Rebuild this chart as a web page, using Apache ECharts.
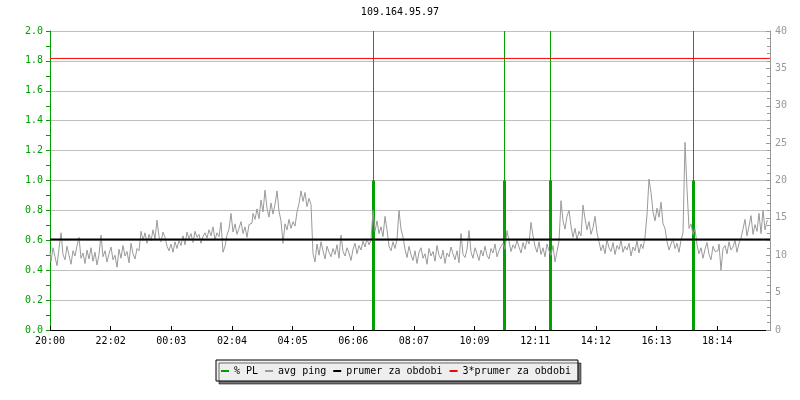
<!DOCTYPE html>
<html>
<head>
<meta charset="utf-8">
<script src="https://cdn.jsdelivr.net/npm/echarts@6/dist/echarts.min.js"></script>
<style>html,body{margin:0;padding:0;background:#fff}#c{width:800px;height:400px}</style>
</head>
<body>
<div id="c"></div>
<script>
const chartTitle = '109.164.95.97';
const tickLabels = ['20:00','22:02','00:03','02:04','04:05','06:06','08:07','10:09','12:11','14:12','16:13','18:14'];
const tickStepMin = 121.3;   // minutes between x tick labels
const spanMin = 1440;        // minutes shown
const pingStepMin = 4;       // minutes between ping samples
// avg ping, ms (right axis)
const avgPing = [
 10.5, 9.2, 11.0, 9.8, 8.6, 10.9, 13.0, 10.1, 9.4, 11.2, 10.0, 8.8, 10.6, 9.9, 11.3,
 12.4, 9.6, 10.3, 8.9, 10.7, 9.5, 11.0, 9.2, 10.4, 8.7, 10.1, 12.7, 9.8, 10.6, 9.1, 10.2, 11.1, 9.4, 10.0, 8.4, 10.8, 9.6, 11.3, 9.9, 10.5, 9.0, 11.6, 10.2, 9.5, 10.9,
 10.6, 13.2, 12.0, 13.0, 11.6, 12.8, 11.9, 13.4, 12.2, 14.7, 12.5, 11.8, 13.1, 12.4, 11.2, 10.6, 11.5, 10.4, 11.8, 10.9, 12.0, 11.3,
 12.6, 11.4, 13.1, 12.2, 12.9, 11.7, 13.2, 12.4, 12.8, 11.6, 12.5, 13.0,
 12.3, 13.4, 12.6, 13.8, 12.1, 13.0, 12.5, 14.4, 10.4, 11.2, 12.7, 13.5,
 15.6, 13.1, 14.2, 12.8, 13.6, 14.5, 12.9, 13.8, 12.4, 14.1,
 14.3, 15.6, 14.8, 16.2, 14.9, 17.4, 15.8, 18.7, 16.3, 15.1, 17.0, 15.5, 16.8, 18.6, 15.9, 14.6,
 11.6, 14.2, 13.4, 14.8, 13.6, 14.5, 13.9,
 15.8, 16.9, 18.6, 17.2, 18.4, 16.5, 17.6, 16.8,
 10.2, 9.1, 11.5, 10.0, 11.8, 10.6, 9.5, 11.2, 10.4, 9.8, 10.9, 10.1, 11.4, 9.6, 12.7, 10.5, 9.9, 11.0, 10.3, 9.3, 10.8, 11.6, 10.2, 11.3, 10.7, 11.9, 11.1, 12.2, 11.4, 12.0,
 16.0, 13.2, 14.6, 12.9, 13.8, 12.5, 15.2, 13.4,
 11.2, 10.6, 11.8, 10.9, 12.1,
 16.0, 13.5, 12.4,
 10.8, 9.7, 11.2, 10.1, 9.3, 10.6, 8.9, 10.4, 11.0, 9.6, 10.2, 8.8, 10.9, 9.9, 10.5, 9.2, 11.3, 10.0, 9.5, 10.7, 8.9, 10.3, 9.8, 11.1, 10.2, 9.4, 10.6, 9.0, 12.9, 10.1, 9.7, 10.8, 13.3, 10.4, 9.6, 11.0, 10.2, 9.3, 10.7, 9.9, 11.2, 10.0, 9.5, 10.9, 10.3, 11.5, 9.8, 10.6, 11.2,
 11.6, 10.8, 13.3, 11.9, 10.5, 11.4, 10.9, 12.0, 11.1, 10.3, 11.7, 10.8, 12.2, 11.5, 14.4, 12.6,
 11.2, 10.4, 11.8, 10.1, 11.0, 9.8, 11.5, 10.6, 10.0, 11.3, 9.1, 10.5, 11.9,
 17.3, 14.6, 13.5, 15.2, 16.0, 13.9,
 12.4, 13.6, 12.1, 13.2, 12.6,
 16.7, 14.9, 13.4, 14.5, 12.8, 13.7, 15.2, 13.0,
 11.8, 10.6, 11.4, 10.2, 12.1, 11.0, 10.5, 11.7, 10.1, 11.3, 10.8, 12.0, 10.4, 11.2, 10.7, 11.6, 9.9, 11.1, 10.6, 11.9, 10.3, 11.5, 10.9, 12.4,
 15.4, 20.2, 18.4, 15.8, 14.6, 16.3, 15.1, 17.1, 14.2, 13.6,
 11.8, 10.7, 11.5, 12.2, 10.9, 11.6, 10.4, 12.0,
 13.0, 25.1, 18.9, 13.6, 14.2, 12.8, 13.5,
 11.4, 10.2, 11.0, 9.6, 10.8, 11.7, 10.1, 9.4, 11.2, 10.5,
 10.6, 11.5, 8.0, 10.9, 11.3, 10.2, 11.8, 10.7, 11.1, 12.0, 10.4, 11.6, 12.3,
 13.5, 14.8, 12.6, 13.9, 15.3, 12.8, 14.1, 13.2, 15.6, 12.9, 16.0, 13.4, 14.6
];
// packet loss events: minutes after 20:00, % PL (left axis)
const plTimes = [647, 909, 1001, 1287];
const plValues = [1.0, 1.0, 1.0, 1.0];
const periodAvg = 12.11;       // ms
const triplePeriodAvg = 36.33; // ms
const seriesNames = ['% PL', 'avg ping', 'prumer za obdobi', '3*prumer za obdobi'];

const FONT = 'DejaVu Sans Mono';
const GREEN = '#00a000';

const pingData = avgPing.map((v, i) => [i * pingStepMin, v]);
const plData = plTimes.map((t, i) => [t, plValues[i]]);
// full-height thin rules at each loss event (broken with '-')
const plRule = [];
plTimes.forEach(t => { plRule.push([t, 0], [t, 2], [t, '-']); });

const chart = echarts.init(document.getElementById('c'), null, {renderer: 'canvas'});
chart.setOption({
  animation: false,
  backgroundColor: '#ffffff',
  title: {
    text: chartTitle, left: 'center', top: 7, padding: 0,
    textStyle: {fontFamily: FONT, fontSize: 10, fontWeight: 'normal', color: '#000'}
  },
  legend: {
    data: seriesNames,
    left: 216, top: 360,
    icon: 'rect', itemWidth: 8, itemHeight: 2, itemGap: 7,
    padding: [6, 7, 5, 5],
    backgroundColor: '#eeeeee', borderColor: '#000', borderWidth: 1,
    shadowColor: 'rgba(0,0,0,0.55)', shadowOffsetX: 3, shadowOffsetY: 3, shadowBlur: 0,
    textStyle: {fontFamily: FONT, fontSize: 10, color: '#000'}
  },
  grid: {left: 50, right: 30, top: 31, bottom: 70, containLabel: false, outerBoundsMode: 'none'},
  xAxis: {
    type: 'value', min: 0, max: spanMin, interval: tickStepMin,
    axisLine: {show: true, lineStyle: {color: '#000', width: 1}},
    axisTick: {show: true, inside: true, length: 4, lineStyle: {color: '#000'}},
    axisLabel: {
      show: true, margin: 6, showMaxLabel: false,
      fontFamily: FONT, fontSize: 10, color: '#000',
      formatter: v => { const k = Math.round(v / tickStepMin); return tickLabels[k] !== undefined && Math.abs(v - k * tickStepMin) < 1 ? tickLabels[k] : ''; }
    },
    splitLine: {show: false}
  },
  yAxis: [
    {
      type: 'value', min: 0, max: 2, interval: 0.2, position: 'left',
      axisLine: {show: true, lineStyle: {color: GREEN, width: 1}},
      axisTick: {show: true, inside: false, length: 4, lineStyle: {color: GREEN}},
      minorTick: {show: true, splitNumber: 2, length: 4, lineStyle: {color: GREEN}},
      axisLabel: {margin: 7, fontFamily: FONT, fontSize: 10, color: GREEN, formatter: v => v.toFixed(1)},
      splitLine: {show: true, lineStyle: {color: '#c0c0c0', width: 1}}
    },
    {
      type: 'value', min: 0, max: 40, interval: 5, position: 'right',
      axisLine: {show: true, lineStyle: {color: '#999', width: 1}},
      axisTick: {show: true, inside: true, length: 4, lineStyle: {color: '#999'}},
      minorTick: {show: true, splitNumber: 5, length: 3, lineStyle: {color: '#999'}},
      axisLabel: {margin: 5, fontFamily: FONT, fontSize: 10, color: '#999'},
      splitLine: {show: false}
    }
  ],
  series: [
    {
      name: 'pl-rule', type: 'line', yAxisIndex: 0, data: plRule,
      symbol: 'none', connectNulls: false, silent: true,
      lineStyle: {color: GREEN, width: 1}, itemStyle: {color: GREEN}
    },
    {
      name: seriesNames[0], type: 'bar', yAxisIndex: 0, data: plData,
      barWidth: 3, itemStyle: {color: GREEN}
    },
    {
      name: seriesNames[1], type: 'line', yAxisIndex: 1, data: pingData, step: 'middle',
      showSymbol: false, symbol: 'none', lineStyle: {color: '#9a9a9a', width: 1}, itemStyle: {color: '#9a9a9a'}
    },
    {
      name: seriesNames[2], type: 'line', yAxisIndex: 1,
      data: [[0, periodAvg], [spanMin, periodAvg]],
      symbol: 'none', lineStyle: {color: '#000', width: 2}, itemStyle: {color: '#000'}
    },
    {
      name: seriesNames[3], type: 'line', yAxisIndex: 1,
      data: [[0, triplePeriodAvg], [spanMin, triplePeriodAvg]],
      symbol: 'none', lineStyle: {color: '#ff0000', width: 1}, itemStyle: {color: '#ff0000'}
    }
  ]
});
</script>
</body>
</html>
